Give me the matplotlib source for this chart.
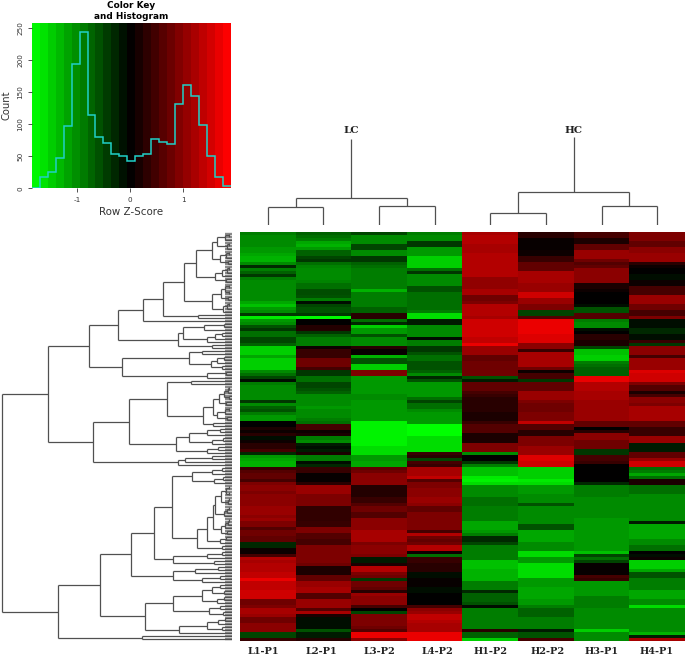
"""Heatmap with colour key and row/column dendrograms."""

import matplotlib

matplotlib.use("Agg")
import matplotlib.pyplot as plt
import numpy as np
from matplotlib.colors import LinearSegmentedColormap

plt.rcParams["axes.unicode_minus"] = False

W, H = 685, 655

SAMPLES = ["L1-P1", "L2-P1", "L3-P2", "L4-P2", "H1-P2", "H2-P2", "H3-P1", "H4-P1"]
LABEL_PX = [263, 321, 379, 437, 491, 548, 602, 657]

# Row z-scores per column, top row first
L1_P1 = [
    -0.9, -1.0, -1.0, -1.0, -1.0, -1.1, -1.1, -1.2, -1.3, -1.3,
    -1.0, -0.3, -0.9, -0.7, -0.4, -0.9, -1.0, -1.0, -1.0, -1.0,
    -1.0, -1.0, -1.0, -1.2, -1.4, -1.1, -1.0, -0.4, -1.7, -1.1,
    -1.0, -0.6, -0.4, -0.8, -0.8, -0.5, -0.5, -0.7, -1.5, -1.5,
    -1.5, -1.2, -1.5, -1.5, -1.5, -1.5, -1.0, -0.8, -0.5, -0.1,
    -0.9, -1.0, -1.0, -1.0, -1.0, -1.0, -0.4, -1.0, -0.7, -0.6,
    -0.9, -1.1, -1.1, 0.0, 0.0, 0.2, 0.1, 0.3, -0.1, 0.1,
    0.3, 0.3, 0.5, -0.3, -1.1, -1.2, -1.3, -1.3, 0.4, 0.6,
    0.7, 0.7, 0.5, 0.9, 1.0, 1.0, 0.9, 1.0, 1.0, 1.0,
    1.0, 1.1, 1.1, 1.1, 1.0, 1.1, 0.9, 0.9, 0.6, 0.8,
    0.8, 0.7, 0.7, -0.3, -0.3, 0.1, 0.1, 0.5, 1.3, 1.2,
    1.3, 1.3, 1.3, 1.4, 1.4, 1.7, 1.4, 1.4, 1.4, 1.5,
    1.5, 1.5, 0.8, 0.8, 0.9, 1.2, 1.2, 1.1, 0.8, 0.8,
    1.0, 1.0, 1.0, -0.5, -0.5, 0.4,
]
L2_P1 = [
    -0.7, -0.8, -0.9, -1.2, -1.3, -1.1, -0.7, -0.7, -0.5, -0.4,
    -0.8, -0.95, -1.0, -1.0, -1.0, -1.0, -0.95, -0.8, -0.8, -0.55,
    -0.55, -0.6, -0.9, -0.1, -0.5, -0.6, -0.6, -0.4, -1.8, 0.0,
    0.0, 0.25, 0.25, -0.4, -0.7, -0.9, -0.9, -0.9, 0.1, 0.4,
    0.4, 0.4, 0.8, 0.8, 0.8, 0.5, -0.4, -0.4, -0.8, -0.8,
    -0.5, -0.5, -0.6, -0.7, -1.0, -1.0, -1.0, -1.0, -1.1, -1.0,
    -1.0, -1.0, -0.9, -0.8, 0.5, 0.5, 0.1, 0.2, -0.9, -1.0,
    -0.2, -0.1, -0.2, 0.2, -0.9, -0.9, -0.1, -0.3, 0.4, 0.4,
    0.05, 0.05, 0.05, 0.3, 1.1, 1.1, 1.1, 0.9, 0.9, 0.9,
    0.9, 0.35, 0.35, 0.35, 0.35, 0.35, 0.4, 0.4, 0.9, 0.9,
    0.6, 0.6, 0.5, 0.5, 0.9, 0.9, 0.9, 0.9, 0.9, 0.9,
    0.8, 0.2, 0.2, 0.2, 0.7, 0.7, 1.1, 1.1, 1.2, 1.2,
    0.6, 0.6, 1.1, 1.1, 1.1, 0.6, 1.2, 0.2, -0.1, -0.1,
    -0.1, -0.1, -0.6, -0.2, -0.2, 0.3,
]
L3_P2 = [
    -0.5, -1.0, -1.0, -1.0, -0.5, -0.5, -1.0, -1.0, -0.4, -0.4,
    -0.7, -0.8, -0.9, -0.9, -0.9, -0.9, -0.9, -0.9, -0.9, -1.3,
    -0.9, -0.9, -0.9, -0.9, -0.9, -0.7, -0.7, 0.3, 0.3, -0.8,
    -0.3, -1.5, -1.1, -1.1, -0.6, -1.0, -1.0, -1.0, 0.3, 0.05,
    0.05, -1.3, -0.6, -0.6, -1.5, -1.5, 0.9, 0.9, -1.1, -1.1,
    -1.1, -1.1, -1.1, -1.1, -1.0, -1.0, -1.1, -1.1, -1.1, -1.1,
    -1.1, -1.1, -1.1, -1.75, -1.75, -1.75, -1.75, -1.75, -1.75, -1.75,
    -1.75, -1.6, -1.6, -1.6, -1.1, -1.1, -1.2, -1.2, 0.7, 0.8,
    1.0, 1.0, 1.0, 1.0, 0.25, 0.25, 0.25, 0.25, 0.4, 0.4,
    0.6, 0.8, 0.8, 0.6, 0.6, 1.0, 1.0, 1.0, 1.0, 1.2,
    1.2, 1.2, 1.2, 0.9, 1.0, 1.0, 1.0, 0.9, -0.2, -0.2,
    0.2, 1.3, 1.3, 0.9, 0.8, -0.4, 0.8, 0.8, 0.7, 0.3,
    1.1, 1.0, 1.0, 1.0, 0.5, 0.0, -0.5, 0.9, 0.9, 0.9,
    0.9, 0.8, 0.6, 1.7, 1.7, 1.0,
]
L4_P2 = [
    -0.9, -1.0, -1.0, -0.4, -0.4, -1.1, -1.1, -1.1, -1.5, -1.5,
    -1.5, -1.5, -0.8, -0.4, -1.0, -1.0, -1.0, -1.0, -0.6, -0.6,
    -0.8, -0.8, -0.8, -0.8, -0.8, -0.8, -0.9, -1.6, -1.6, -0.2,
    -0.2, -1.0, -1.0, -1.0, -1.0, -0.1, -0.9, -0.9, -0.4, -0.4,
    -0.6, -0.8, -0.8, -0.6, -0.6, -0.6, -0.7, -1.0, -0.3, -0.6,
    -1.1, -1.1, -1.1, -1.1, -1.1, -0.8, -0.5, -0.8, -0.8, -1.0,
    -1.1, -1.1, -1.1, -1.1, -1.85, -1.85, -1.85, -1.85, -1.6, -1.6,
    -1.6, -1.6, -1.6, 0.4, 0.3, -0.5, 0.5, 0.4, 1.2, 1.2,
    1.2, 1.4, 0.6, 0.9, 0.9, 1.0, 1.0, 1.0, 1.1, 1.1,
    1.0, 0.7, 0.7, 0.9, 0.9, 0.9, 0.9, 0.9, 0.9, 0.5,
    1.3, 0.8, 0.7, 0.8, 1.3, 1.3, 0.1, -0.8, 0.4, 0.4,
    0.3, 0.3, 0.3, -0.1, -0.1, 0.05, 0.05, 0.05, -0.1, -0.1,
    0.0, 0.0, 0.0, 0.0, 0.5, 1.0, 1.1, 1.4, 1.4, 1.3,
    1.2, 1.2, 1.2, 1.7, 1.7, 1.7,
]
H1_P2 = [
    1.2, 1.3, 1.3, 1.3, 1.2, 1.2, 1.2, 1.3, 1.3, 1.3,
    1.3, 1.3, 1.3, 1.3, 1.3, 1.05, 1.05, 1.05, 1.05, 1.2,
    1.2, 0.8, 0.8, 0.9, 1.3, 1.3, 1.3, 1.3, 1.2, 1.5,
    1.5, 1.5, 1.5, 1.5, 1.5, 1.4, 1.4, 1.7, 1.1, 1.1,
    1.1, 0.7, 0.7, 0.8, 0.8, 0.8, 0.8, 0.8, -0.6, -0.2,
    0.7, 0.7, 0.7, 0.5, 0.4, 0.3, 0.3, 0.3, 0.3, 0.3,
    0.2, 0.2, 0.2, 0.4, 0.6, 0.6, 0.6, 0.2, 0.2, 0.2,
    0.9, 0.9, 0.9, -1.0, 0.0, 0.0, -0.4, -0.9, -1.4, -1.4,
    -1.4, -1.7, -1.75, -1.6, -1.0, -1.0, -1.0, -1.0, -0.8, -0.8,
    -0.8, -0.9, -0.9, -0.9, -0.9, -0.9, -1.2, -1.2, -1.2, -1.1,
    -0.9, -0.3, -0.3, -0.5, -0.9, -0.9, -0.9, -0.9, -0.9, -1.4,
    -1.4, -1.4, -1.3, -1.3, -1.3, -1.3, -0.9, -0.9, -0.9, -0.3,
    -0.7, -0.7, -0.7, -0.6, -0.1, -0.9, -0.9, -0.9, -0.9, -0.9,
    -0.9, -0.9, 0.3, -0.7, -0.7, -1.5,
]
H2_P2 = [
    0.3, 0.3, 0.05, 0.05, 0.05, 0.05, 0.1, 0.1, 0.4, 0.4,
    0.7, 0.7, 0.7, 1.2, 1.2, 1.2, 1.2, 1.1, 1.1, 1.1,
    1.5, 1.5, 1.1, 1.1, 0.9, 0.9, -0.5, -0.5, 0.6, 1.7,
    1.7, 1.7, 1.7, 1.7, 1.6, 1.6, 1.6, 1.0, 1.0, 0.4,
    1.2, 1.2, 1.2, 1.2, 1.2, 0.8, 0.1, 0.5, 0.5, -0.4,
    0.7, 0.7, 0.7, 1.1, 1.1, 1.1, 0.9, 0.8, 0.8, 0.8,
    0.9, 0.9, 0.9, 1.4, 0.6, 0.6, 0.3, 0.3, 0.9, 0.9,
    0.9, 1.1, 1.1, 1.1, 1.6, 1.6, 1.5, 1.5, -1.5, -1.5,
    -1.5, -1.5, -1.7, -1.6, -1.1, -1.1, -1.1, -1.0, -1.0, -1.0,
    -0.6, -1.0, -1.0, -1.0, -1.0, -1.0, -1.0, -0.6, -0.6, -1.2,
    -1.2, -1.2, -1.2, -1.0, -1.0, -1.0, -1.6, -1.6, -1.1, -1.1,
    -1.6, -1.6, -1.6, -1.6, -1.6, -1.1, -1.1, -1.1, -1.2, -1.2,
    -1.2, -1.2, -1.1, -1.1, -0.9, -0.7, -0.7, -0.7, -0.9, -0.9,
    -0.9, -0.9, -0.2, -0.6, -0.6, 0.5,
]
H3_P1 = [
    0.5, 0.5, 0.2, 0.2, 0.7, 0.7, 1.1, 1.1, 1.1, 0.8,
    0.6, 0.7, 1.0, 1.0, 1.0, 1.0, 1.0, 0.2, 0.2, 0.1,
    0.0, 0.0, 0.0, 0.0, -0.1, -0.6, -0.6, 0.6, 0.6, -0.9,
    -1.0, -1.0, -0.1, 0.0, 0.3, 0.3, 0.2, 0.2, -0.5, -1.4,
    -1.4, -1.5, -1.5, -0.9, -0.8, -0.7, -0.7, -0.7, 1.7, 1.7,
    1.3, 1.3, 1.3, 1.2, 1.2, 1.2, 1.1, 1.1, 1.1, 1.1,
    1.1, 1.1, 1.1, 0.7, 0.7, 0.0, 0.3, 1.0, 1.0, 0.8,
    0.8, 0.8, -0.4, -0.4, 0.5, 0.5, 0.4, 0.0, 0.0, 0.0,
    0.0, 0.0, 0.0, -0.3, -0.9, -0.9, -0.9, -0.9, -1.0, -1.0,
    -1.0, -1.0, -1.0, -1.0, -1.0, -1.1, -1.1, -1.1, -1.1, -1.1,
    -1.1, -1.1, -1.1, -1.1, -1.1, -1.1, -1.4, -0.5, -0.8, -0.5,
    0.05, 0.05, 0.05, 0.05, 0.5, 0.4, -1.1, -1.1, -1.1, -1.1,
    -1.1, -0.9, -0.9, -0.9, -0.9, -1.0, -1.0, -1.0, -1.0, -1.0,
    -1.0, -1.0, -1.5, -1.0, -1.0, -1.0,
]
H4_P1 = [
    0.9, 0.9, 0.9, 0.7, 0.7, 1.0, 1.0, 1.1, 1.1, 1.1,
    0.3, 0.1, 0.0, 0.0, -0.1, -0.1, 0.1, 0.1, 0.5, 0.5,
    0.5, 1.1, 1.1, 1.1, 0.8, 0.8, 0.5, 0.5, 0.9, -0.1,
    -0.1, -0.1, -0.3, -0.3, -0.1, -0.1, 0.4, -0.4, 1.0, 1.0,
    1.0, 0.5, 1.1, 1.1, 1.1, 1.1, 1.6, 1.5, 1.5, 1.5,
    0.9, 0.6, 0.6, 0.2, 0.5, 1.0, 1.0, 0.9, 1.2, 1.2,
    1.2, 1.2, 1.2, 0.7, 0.7, 0.4, 0.4, 0.4, 1.1, 1.1,
    -0.2, -0.2, -0.2, 0.7, 0.7, 1.1, 1.5, 1.5, -0.8, -0.9,
    -1.2, -0.8, 0.2, 0.2, -0.8, -0.8, -0.8, -1.0, -1.0, -1.0,
    -1.0, -1.0, -1.0, -1.0, -1.0, -1.0, -0.2, -1.2, -1.2, -1.2,
    -1.2, -1.2, -1.0, -1.0, -0.8, -0.8, 0.0, -0.1, 0.1, -1.5,
    -1.5, -1.5, -1.2, -0.6, -0.6, -0.9, -0.9, -0.9, -0.9, -1.2,
    -1.2, -1.2, -1.0, -1.0, -1.6, -1.0, -1.0, -1.0, -1.0, -1.0,
    -1.0, -1.0, -1.0, -1.3, -0.2, 1.2,
]

# Colour key histogram
KEY_RANGE = (-1.862, 1.906)
KEY_COUNTS = [0, 18, 25, 47, 97, 194, 244, 114, 81, 71, 53, 50, 43,
              50, 53, 77, 73, 69, 132, 161, 145, 99, 50, 18, 4]

# Row dendrogram as (height, upper child, lower child); an int is that many
# leaves hanging from a short comb
TOP_A = (36, (20, (15, (7, 2, 1), (5, 2, 1)), (12, (6, 2, 1), (4, 1, 1))),
         (17, (10, (5, 2, 1), 1), (6, 1, 1)))
TOP_B = (20, (11, (7, 2, 2), (4, 1, 1)), (9, (5, 2, 1), 1))
UPPER_1 = (89, (69, (48, TOP_A, TOP_B), (34, 1, 1)), 1)
UPPER_2 = (54, (49, (28, (8, 1, 1), 1), (25, (17, (10, 1, 1), 1), 1)), (20, 1, 1))
UPPER_3 = (110, (43, (30, 1, 1), (21, (15, (8, 1, 1), 1), (10, 1, 1))),
           (25, (6, 1, 1), 1))
UPPER_4 = (65, (41, 1, 1),
           (29, (19, (13, (8, (4, 2, 1), (3, 1, 1)), (6, 1, 1)), (15, (7, 2, 1), (5, 1, 1))),
            (19, 1, 1)))
UPPER_5 = (56, (43, (25, (12, 1, 1), 1), (20, (9, 1, 1), 1)), (25, (14, 1, 1), 1))
UPPER_6 = (54, (47, (20, 1, 1), 1), 1)
UPPER = (184, (143, (114, UPPER_1, UPPER_2), UPPER_3),
         (139, (103, UPPER_4, UPPER_5), UPPER_6))

LOWER_1 = (40, (20, (10, 1, 1), 1), (18, (9, 1, 1), 1))
LOWER_2 = (19, (17, (11, (6, 2, 2), (4, 2, 1)), (8, (5, 2, 1), 1)),
           (11, (7, (4, 2, 1), 1), (5, 1, 1)))
LOWER_3 = (35, (25, LOWER_2, (12, (6, 1, 1), 1)), (10, 1, 1))
LOWER_4 = (59, (25, (10, 1, 1), 1), (18, 1, 1))
LOWER_5 = (59, (37, (14, 1, 1), 1), (30, (12, 1, 1), 1))
LOWER_6 = (59, (30, (20, (12, 1, 1), (8, 1, 1)), (15, (8, 1, 1), 1)), (23, (12, 1, 1), (9, 1, 1)))
LOWER_7 = (53, (25, (14, (7, 1, 1), 1), (10, 1, 1)), 1)
LOWER = (174, (132, (101, (78, (60, LOWER_1, LOWER_3), LOWER_4), LOWER_5),
               (87, LOWER_6, LOWER_7)), (90, 1, 1))
ROW_TREE = (230, UPPER, LOWER)

# Column dendrogram, two separate groups with their stems
LC_TREE = (27.3, (18.3, 1, 1), (19, 1, 1))
HC_TREE = (32.7, (11.7, 1, 1), (19, 1, 1))
LC_TOP = 85.7
HC_TOP = 88

COMB_HEIGHT = 3
BAND_HEIGHT = 7
LINE = dict(color="#505050", lw=0.9, solid_capstyle="butt")
BAND = dict(color="#8a8a8a", lw=1.7, solid_capstyle="butt")


def px_axes(fig, left, top, right, bottom):
    """Axes placed by pixel box, origin at the top left of the image."""
    return fig.add_axes([left / W, 1 - bottom / H, (right - left) / W, (bottom - top) / H])


def draw_tree(ax, node, cursor, horizontal):
    """Draw a node, return (leaf position, height) where its parent attaches."""

    def seg(p, q, style=LINE):
        if horizontal:
            ax.plot([p[0], q[0]], [p[1], q[1]], **style)
        else:
            ax.plot([p[1], q[1]], [p[0], q[0]], **style)

    if isinstance(node, int):
        start = cursor[0]
        cursor[0] += node
        # only the row tree has the grey band of packed leaves
        if horizontal:
            for i in range(node):
                seg((BAND_HEIGHT, start + i + 0.5), (0, start + i + 0.5), BAND)
        if node == 1:
            return start + 0.5, 0
        seg((COMB_HEIGHT, start + 0.5), (COMB_HEIGHT, start + node - 0.5))
        return start + node / 2, COMB_HEIGHT

    height, first, second = node
    pos_a, h_a = draw_tree(ax, first, cursor, horizontal)
    pos_b, h_b = draw_tree(ax, second, cursor, horizontal)
    seg((h_a, pos_a), (height, pos_a))
    seg((h_b, pos_b), (height, pos_b))
    seg((height, pos_a), (height, pos_b))
    return (pos_a + pos_b) / 2, height


fig = plt.figure(figsize=(W / 100, H / 100), dpi=100)
green_black_red = LinearSegmentedColormap.from_list("gbr", ["#00ff00", "#000000", "#ff0000"])

# Heatmap
ax = px_axes(fig, 240, 232, 685, 641)
matrix = np.column_stack([L1_P1, L2_P1, L3_P2, L4_P2, H1_P2, H2_P2, H3_P1, H4_P1])
ax.imshow(matrix, aspect="auto", cmap=green_black_red, vmin=-1.85, vmax=1.85,
          interpolation="nearest")
ax.set_xticks((np.array(LABEL_PX) - 240) / (445 / len(SAMPLES)) - 0.5)
ax.set_xticklabels(SAMPLES, family="DejaVu Serif", fontweight="bold", fontsize=7, color="#222222")
ax.tick_params(axis="x", length=0, pad=4.5)
ax.set_yticks([])
for spine in ax.spines.values():
    spine.set_visible(False)

# Row dendrogram
ax = px_axes(fig, 0, 232, 232, 641)
draw_tree(ax, ROW_TREE, [0], True)
ax.set_xlim(232, 0)
ax.set_ylim(matrix.shape[0], 0)
ax.axis("off")

# Column dendrogram
ax = px_axes(fig, 240, 120, 685, 225)
cursor = [0]
pos_lc, h_lc = draw_tree(ax, LC_TREE, cursor, False)
pos_hc, h_hc = draw_tree(ax, HC_TREE, cursor, False)
ax.plot([pos_lc, pos_lc], [h_lc, LC_TOP], **LINE)
ax.plot([pos_hc, pos_hc], [h_hc, HC_TOP], **LINE)
ax.text(pos_lc, LC_TOP + 4, "LC", ha="center", va="bottom", family="DejaVu Serif",
        fontweight="bold", fontsize=7.5, color="#222222")
ax.text(pos_hc, HC_TOP + 2, "HC", ha="center", va="bottom", family="DejaVu Serif",
        fontweight="bold", fontsize=7.5, color="#222222")
ax.set_xlim(0, 8)
ax.set_ylim(0, 105)
ax.axis("off")

# Colour key
ax = px_axes(fig, 31.7, 22.7, 231, 188.3)
edges = np.linspace(KEY_RANGE[0], KEY_RANGE[1], len(KEY_COUNTS) + 1)
centres = (edges[:-1] + edges[1:]) / 2
ax.pcolormesh(edges, [0, 259], centres[np.newaxis, :], cmap=green_black_red,
              vmin=-1.85, vmax=1.85)
ax.stairs(KEY_COUNTS, edges, color="#20d0c8", lw=1.1, baseline=None)
ax.set_xlim(KEY_RANGE)
ax.set_ylim(0, 259)
ax.set_xticks([-1, 0, 1])
ax.set_yticks([0, 50, 100, 150, 200, 250])
ax.tick_params(axis="both", labelsize=5.2, length=3, width=0.6, pad=3, colors="#333333")
for label in ax.get_yticklabels():
    label.set_rotation(90)
    label.set_va("center")
ax.set_xlabel("Row Z-Score", fontsize=7.4, color="#333333", labelpad=3)
ax.set_ylabel("Count", fontsize=7.2, color="#333333", labelpad=4)
ax.set_title("Color Key\nand Histogram", fontsize=6.4, fontweight="bold", pad=3, linespacing=1.2)
for spine in ax.spines.values():
    spine.set_visible(False)

fig.savefig("out.png", dpi=100)
